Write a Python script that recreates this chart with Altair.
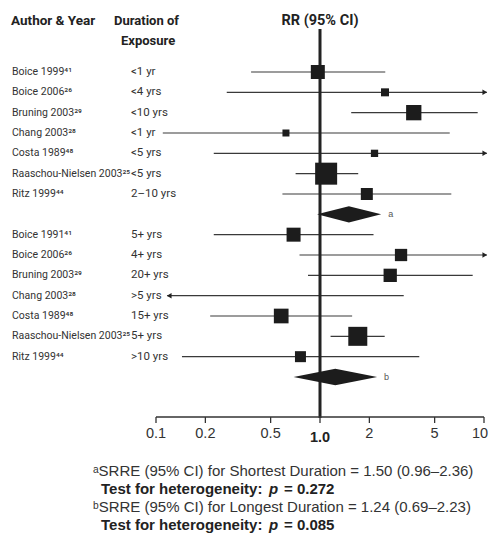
import altair as alt
import pandas as pd

# ---------------- data ----------------
authors = ["Boice 1999⁴¹", "Boice 2006²⁶", "Bruning 2003²⁹", "Chang 2003²⁸", "Costa 1989⁴⁸",
           "Raaschou-Nielsen 2003²⁵", "Ritz 1999⁴⁴",
           "Boice 1991⁴¹", "Boice 2006²⁶", "Bruning 2003²⁹", "Chang 2003²⁸", "Costa 1989⁴⁸",
           "Raaschou-Nielsen 2003²⁵", "Ritz 1999⁴⁴"]
durations = ["<1 yr", "<4 yrs", "<10 yrs", "<1 yr", "<5 yrs", "<5 yrs", "2–10 yrs",
             "5+ yrs", "4+ yrs", "20+ yrs", ">5 yrs", "15+ yrs", "5+ yrs", ">10 yrs"]
rows = [0, 1, 2, 3, 4, 5, 6, 8, 9, 10, 11, 12, 13, 14]
rr = [0.97, 2.49, 3.73, 0.62, 2.15, 1.09, 1.93, 0.69, 3.12, 2.68, None, 0.58, 1.70, 0.76]
ci_lo = [0.38, 0.27, 1.55, 0.11, 0.225, 0.71, 0.59, 0.225, 0.75, 0.845, 0.05, 0.214, 1.16, 0.144]
ci_hi = [2.50, 15.0, 9.15, 6.18, 15.0, 1.71, 6.32, 2.12, 15.0, 8.53, 3.24, 1.57, 2.48, 4.03]
weights = [196, 64, 234, 49, 53, 484, 144, 196, 151, 177, None, 216, 361, 121]

pooled_label = ["a", "b"]
pooled_row = [7, 15]
pooled_est = [1.50, 1.24]
pooled_lo = [0.96, 0.69]
pooled_hi = [2.36, 2.23]

tick_values = [0.1, 0.2, 0.5, 1.0, 2, 5, 10]
tick_labels = ["0.1", "0.2", "0.5", "1.0", "2", "5", "10"]

footnotes = [
    ("ᵃSRRE (95% CI) for Shortest Duration = 1.50 (0.96–2.36)", "0.272"),
    ("ᵇSRRE (95% CI) for Longest Duration = 1.24 (0.69–2.23)", "0.085"),
]

# ---------------- frames ----------------
df = pd.DataFrame(dict(row=rows, author=authors, duration=durations, rr=rr,
                       lo=ci_lo, hi=ci_hi, weight=weights))
pooled = pd.DataFrame(dict(g=pooled_label, row=pooled_row, hi=pooled_hi))
ticks = pd.DataFrame(dict(v=tick_values, lab=tick_labels))

COND = "Roboto, sans-serif"
SANS = "Liberation Sans, Arial, Helvetica, sans-serif"
OFF = -3  # small horizontal shift so that the right-hand text fits the page

xs = alt.Scale(type="log", domain=[0.1, 10], range=[151 + OFF, 479 + OFF], nice=False)
ys = alt.Scale(domain=[0, 15], range=[64, 369], nice=False, zero=False)

base = alt.Chart(df).transform_calculate(
    lo_d="datum.lo < 0.1 ? 0.117 : datum.lo",
    hi_d="datum.hi > 10 ? 10.4 : datum.hi",
)

ci = base.mark_rule(color="#3a3a3a", strokeWidth=1.2).encode(
    x=alt.X("lo_d:Q", scale=xs, axis=None),
    x2="hi_d:Q",
    y=alt.Y("row:Q", scale=ys, axis=None),
)

arrow_r = base.transform_filter("datum.hi > 10").mark_point(
    shape="triangle-right", filled=True, size=30, color="#222", opacity=1, xOffset=-2
).encode(x=alt.X("hi_d:Q", scale=xs, axis=None), y=alt.Y("row:Q", scale=ys, axis=None))

arrow_l = base.transform_filter("datum.lo < 0.1").mark_point(
    shape="triangle-left", filled=True, size=30, color="#222", opacity=1, xOffset=2
).encode(x=alt.X("lo_d:Q", scale=xs, axis=None), y=alt.Y("row:Q", scale=ys, axis=None))

null_line = alt.Chart(pd.DataFrame({"v": [1.0]})).mark_rule(
    color="#222", strokeWidth=3
).encode(x=alt.X("v:Q", scale=xs, axis=None), y=alt.value(21), y2=alt.value(410))

squares = base.transform_filter("isValid(datum.rr)").mark_square(
    filled=True, color="#1c1c1c", opacity=1
).encode(
    x=alt.X("rr:Q", scale=xs, axis=None),
    y=alt.Y("row:Q", scale=ys, axis=None),
    size=alt.Size("weight:Q", scale=alt.Scale(domain=[0, 484], range=[0, 484]), legend=None),
)

# pooled-estimate diamonds: one area per diamond (lo -> est -> hi)
diamonds = []
for lab, r, e, l, h in zip(pooled_label, pooled_row, pooled_est, pooled_lo, pooled_hi):
    d = pd.DataFrame(dict(x=[l, e, h], ya=[r, r - 0.4, r], yb=[r, r + 0.4, r]))
    diamonds.append(
        alt.Chart(d).mark_area(color="#1c1c1c", opacity=1, orient="vertical",
                               interpolate="linear").encode(
            x=alt.X("x:Q", scale=xs, axis=None),
            y=alt.Y("ya:Q", scale=ys, axis=None, stack=None),
            y2="yb:Q",
        )
    )

dia_lab = alt.Chart(pooled).mark_text(
    align="left", baseline="middle", dx=7, fontSize=9, color="#555", font=SANS
).encode(x=alt.X("hi:Q", scale=xs, axis=None), y=alt.Y("row:Q", scale=ys, axis=None), text="g:N")

auth_txt = base.mark_text(
    align="left", baseline="middle", fontSize=10.5, color="#333", font=COND
).encode(x=alt.value(4), y=alt.Y("row:Q", scale=ys, axis=None), text="author:N")

dur_txt = base.mark_text(
    align="left", baseline="middle", fontSize=11.5, color="#333", font=COND
).encode(x=alt.value(123), y=alt.Y("row:Q", scale=ys, axis=None), text="duration:N")

# axis
ax_line = alt.Chart(pd.DataFrame({"a": [0.1], "b": [10]})).mark_rule(
    color="#333", strokeWidth=1.3
).encode(x=alt.X("a:Q", scale=xs, axis=None), x2="b:Q", y=alt.value(409))

ax_ticks = alt.Chart(ticks).mark_rule(color="#333", strokeWidth=1.3).encode(
    x=alt.X("v:Q", scale=xs, axis=None), y=alt.value(409), y2=alt.value(415)
)
ax_lab = alt.Chart(ticks).transform_filter("datum.v != 1 && datum.v != 10").mark_text(
    baseline="middle", fontSize=14.5, color="#333", font=SANS
).encode(x=alt.X("v:Q", scale=xs, axis=None), y=alt.value(426), text="lab:N")
ax_lab10 = alt.Chart(ticks).transform_filter("datum.v == 10").mark_text(
    baseline="middle", fontSize=14.5, color="#333", font=SANS, dx=-4
).encode(x=alt.X("v:Q", scale=xs, axis=None), y=alt.value(426), text="lab:N")
ax_lab1 = alt.Chart(ticks).transform_filter("datum.v == 1").mark_text(
    baseline="middle", fontSize=14.5, fontWeight="bold", color="#222", font=SANS
).encode(x=alt.X("v:Q", scale=xs, axis=None), y=alt.value(430), text="lab:N")

# headers
def label(txt, x, y, **kw):
    return alt.Chart(pd.DataFrame({"t": [txt]})).mark_text(baseline="middle", **kw).encode(
        x=alt.value(x + OFF), y=alt.value(y), text="t:N")

hdr = [
    label("Author & Year", 6, 13, align="left", fontSize=13.5, fontWeight="bold", color="#222", font=COND),
    label("Duration of", 109, 13, align="left", fontSize=13, fontWeight="bold", color="#222", font=COND),
    label("Exposure", 116, 33, align="left", fontSize=13, fontWeight="bold", color="#222", font=COND),
    label("RR (95% CI)", 315, 13, align="center", fontSize=14.5, fontWeight="bold", color="#222", font=COND),
]

foot = []
ys_foot = [463, 481, 499, 517]
for i, (line, pval) in enumerate(footnotes):
    y1, y2 = ys_foot[2 * i], ys_foot[2 * i + 1]
    foot.append(label(line, 88, y1, align="left", fontSize=15, color="#333", font=SANS))
    foot.append(label("Test for heterogeneity:", 96, y2, align="left", fontSize=15,
                      fontWeight="bold", color="#222", font=SANS))
    foot.append(label("p", 264, y2, align="left", fontSize=15, fontWeight="bold",
                      fontStyle="italic", color="#222", font=SANS))
    foot.append(label("= " + pval, 279, y2, align="left", fontSize=15, fontWeight="bold",
                      color="#222", font=SANS))

chart = alt.layer(
    ci, arrow_r, arrow_l, null_line, squares, *diamonds, dia_lab, auth_txt, dur_txt,
    ax_line, ax_ticks, ax_lab, ax_lab10, ax_lab1, *hdr, *foot
).properties(
    width=482, height=525, padding=0, autosize=alt.AutoSizeParams(type="none"),
    background="white",
).configure_view(stroke=None)

chart.save("out.html", embed_options={"renderer": "svg", "actions": False})
